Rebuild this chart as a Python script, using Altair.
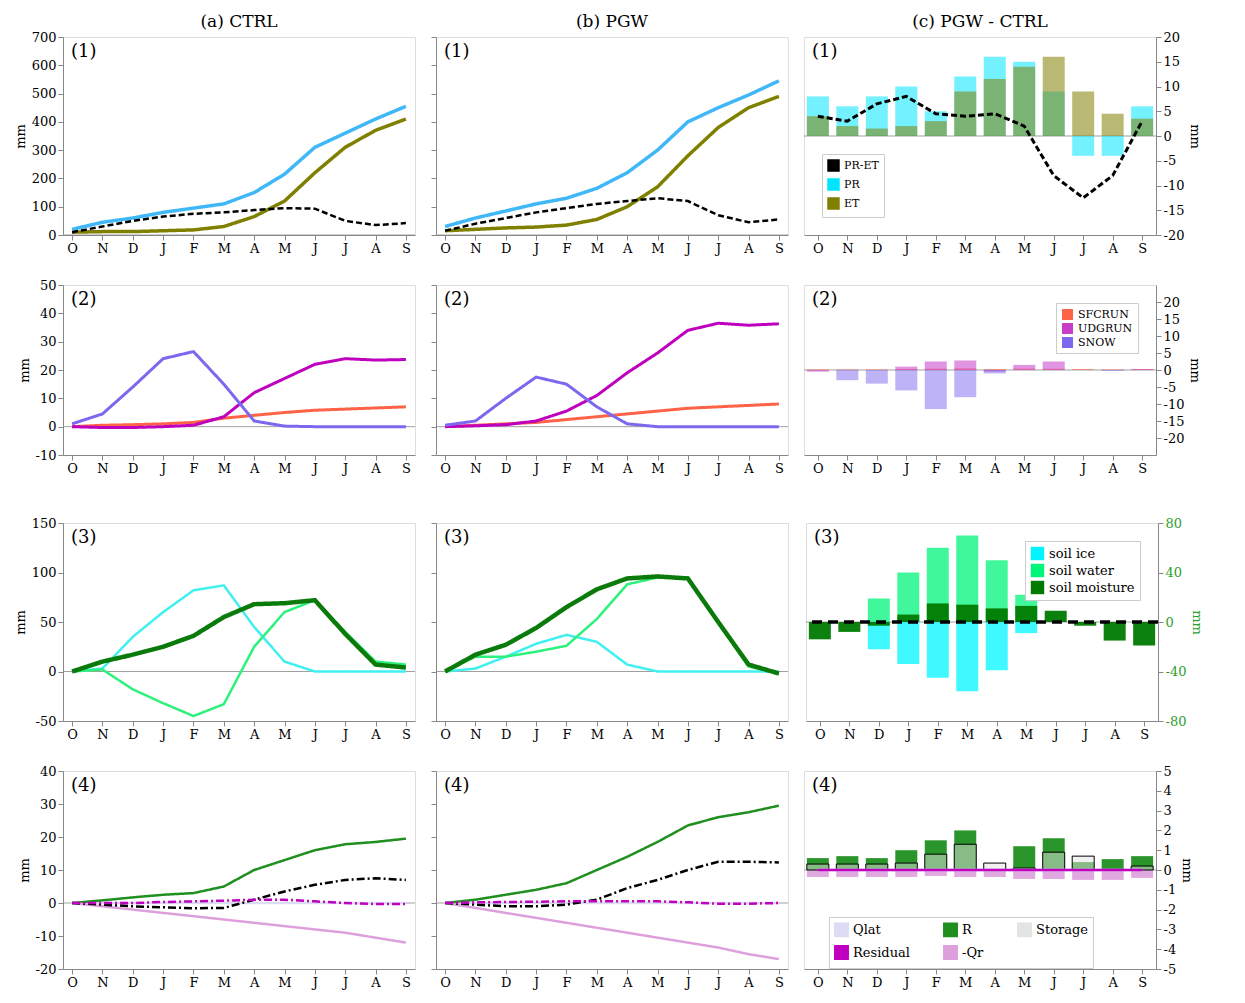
import pandas as pd
import altair as alt

months = ['O', 'N', 'D', 'J', 'F', 'M', 'A', 'M', 'J', 'J', 'A', 'S']
idx = list(range(12))

# row 1: precipitation / ET
pr_ctrl = [20, 45, 60, 80, 95, 110, 150, 215, 310, 360, 410, 455]
et_ctrl = [10, 12, 12, 15, 18, 30, 65, 120, 220, 310, 370, 410]
prmet_ctrl = [10, 30, 50, 65, 75, 80, 88, 95, 93, 50, 35, 42]
pr_pgw = [30, 60, 85, 110, 130, 165, 220, 300, 400, 450, 495, 545]
et_pgw = [15, 20, 25, 28, 35, 55, 100, 170, 280, 380, 450, 490]
prmet_pgw = [15, 40, 60, 80, 95, 110, 120, 130, 120, 70, 45, 55]
pr_diff = [8, 6, 8, 10, 5, 12, 16, 15, 9, -4, -4, 6]
et_diff = [4, 2, 1.5, 2, 3, 9, 11.5, 14, 16, 9, 4.5, 3.5]
prmet_diff = [4, 3, 6.5, 8, 4.5, 4, 4.5, 2, -8, -12.5, -8, 3]

# row 2: runoff / snow
sfc_ctrl = [0, 0.5, 0.7, 1, 1.5, 3, 4, 5, 5.8, 6.2, 6.6, 7]
udg_ctrl = [0, -0.3, -0.3, 0, 0.5, 3.5, 12, 17, 22, 24, 23.5, 23.7]
snow_ctrl = [1, 4.5, 14, 24, 26.5, 15, 2, 0.2, 0, 0, 0, 0]
sfc_pgw = [0, 0.5, 1, 1.5, 2.5, 3.5, 4.5, 5.5, 6.5, 7, 7.5, 8]
udg_pgw = [0, 0.3, 0.7, 2, 5.5, 11, 19, 26, 34, 36.5, 35.8, 36.3]
snow_pgw = [0.5, 2, 10, 17.5, 15, 7, 1, 0, 0, 0, 0, 0]
sfc_diff = [0.2, 0.2, 0.2, 0.3, 0.4, 0.5, 0.3, 0.4, 0.4, 0.3, 0.2, 0.2]
udg_diff = [-0.5, 0, 0, 1, 2.5, 2.8, -0.5, 1.5, 2.5, 0, 0, 0.3]
snow_diff = [0, -3, -4, -6, -11.5, -8, -1, 0, 0, 0, -0.3, 0]

# row 3: soil
ice_ctrl = [0, 3, 35, 60, 82, 87, 45, 10, 0, 0, 0, 0]
wat_ctrl = [0, 2, -18, -32, -45, -33, 25, 60, 72, 40, 10, 7]
sm_ctrl = [0, 10, 17, 25, 36, 55, 68, 69, 72, 38, 7, 4]
ice_pgw = [0, 3, 15, 28, 37, 30, 7, 0, 0, 0, 0, 0]
wat_pgw = [0, 15, 15, 20, 26, 53, 88, 95, 95, 50, 5, -2]
sm_pgw = [0, 17, 27, 44, 65, 83, 94, 96, 94, 50, 7, -2]
ice_diff = [0, 0, -22, -34, -45, -56, -39, -9, 0, 0, 0, 0]
wat_diff = [0, 0, 19, 40, 60, 70, 50, 22, 0, 0, 0, 0]
sm_diff = [-14, -8, -3, 6, 15, 14, 11, 13, 9, -3, -15, -19]

# row 4: groundwater budget
r_ctrl = [0, 0.8, 1.7, 2.5, 3, 5, 10, 13, 16, 17.8, 18.5, 19.5]
qr_ctrl = [0, -1, -2, -3, -4, -5, -6, -7, -8, -9, -10.5, -12]
st_ctrl = [0, -0.5, -1, -1.3, -1.6, -1.5, 1, 3.5, 5.5, 7, 7.5, 7]
res_ctrl = [0, 0, 0, 0.3, 0.5, 0.7, 1, 1, 0.5, 0, -0.3, -0.3]
qlat_ctrl = [0, 0, 0, 0, 0, 0, 0, 0, 0, 0, 0, 0]
r_pgw = [0, 1, 2.5, 4, 6, 10, 14, 18.5, 23.5, 26, 27.5, 29.5]
qr_pgw = [0, -1.5, -3, -4.5, -6, -7.5, -9, -10.5, -12, -13.5, -15.5, -17]
st_pgw = [0, -0.5, -1, -1, -0.5, 1, 4.5, 7, 10, 12.5, 12.5, 12.3]
res_pgw = [0, 0.2, 0.3, 0.4, 0.5, 0.5, 0.5, 0.5, 0.2, -0.2, -0.2, 0]
qlat_pgw = [0, 0, 0, 0, 0, 0, 0, 0, 0, 0, 0, 0]
r_diff = [0.6, 0.7, 0.6, 1.0, 1.5, 2.0, 0.0, 1.2, 1.6, 0.4, 0.55, 0.7]
qr_diff = [-0.35, -0.35, -0.35, -0.35, -0.3, -0.35, -0.35, -0.45, -0.45, -0.5, -0.5, -0.4]
st_diff = [0.3, 0.3, 0.3, 0.35, 0.8, 1.3, 0.35, 0.1, 0.9, 0.7, 0, 0.2]
zeros = [0] * 12

FONT = 'DejaVu Serif'
W = 352
XEXPR = "['O','N','D','J','F','M','A','M','J','J','A','S'][datum.value]"


def long_df(name, vals):
    return pd.DataFrame({'idx': idx, 'value': vals, 'series': [name] * 12})


def xenc():
    return alt.X('idx:Q', scale=alt.Scale(domain=[-0.3, 11.3], nice=False),
                 axis=alt.Axis(values=idx, labelExpr=XEXPR, title=None, grid=False,
                               labelFontSize=13, labelFont=FONT))


def panel(col, label, ydom, ystep, lines=(), bars=(), legend=None, h=198,
          title=None, ytitle_color='black', ylabel_vals=None, zero_dash=False):
    names = [s[0] for s in bars] + [s[0] for s in lines]
    colors = [s[2] for s in bars] + [s[2] for s in lines]
    if legend and 'order' in legend:
        order = legend.pop('order')
        pairs = dict(zip(names, colors))
        names = order
        colors = [pairs[n] for n in order]
    cscale = alt.Scale(domain=names, range=colors)
    vals = ylabel_vals if ylabel_vals else list(range(ydom[0], ydom[1] + 1, ystep))
    if col == 'a':
        yaxis = alt.Axis(values=vals, title='mm', grid=False, labelFontSize=13, labelFont=FONT,
                         labelExpr='datum.value',
                         titleFont=FONT, titleFontWeight='normal', titleFontSize=13)
    elif col == 'b':
        yaxis = alt.Axis(values=vals, title=None, labels=False, grid=False)
    else:
        yaxis = alt.Axis(values=vals, title='mm', orient='right', grid=False, labelFontSize=13,
                         labelExpr='datum.value',
                         labelFont=FONT, titleFont=FONT, titleFontWeight='normal', titleFontSize=13,
                         labelColor=ytitle_color, titleColor=ytitle_color)
    yscale = alt.Scale(domain=ydom, nice=False)
    leg = alt.Legend(**legend) if legend else None
    layers = []
    zero = alt.Chart(pd.DataFrame({'z': [0]})).mark_rule(color='#888', size=0.8).encode(
        y=alt.Y('z:Q', scale=yscale, axis=yaxis))
    layers.append(zero)
    for name, vals_, color, opacity, stroke in bars:
        kw = dict(size=22, fillOpacity=opacity)
        if stroke:
            kw.update(stroke='black', strokeWidth=1, strokeOpacity=1)
        layers.append(alt.Chart(long_df(name, vals_)).mark_bar(**kw).encode(
            x=xenc(), y=alt.Y('value:Q', scale=yscale, axis=yaxis), y2=alt.datum(0),
            fill=alt.Fill('series:N', scale=cscale, legend=leg, title=None)))
    for k, (name, vals_, color, dash_, width) in enumerate(lines):
        layers.append(alt.Chart(long_df(name, vals_)).mark_line(
            strokeWidth=width, strokeDash=dash_).encode(
            x=xenc(), y=alt.Y('value:Q', scale=yscale, axis=yaxis),
            stroke=alt.Stroke('series:N', scale=cscale,
                              legend=leg if (not bars and k == 0) else None, title=None),
            order=alt.Order('idx:Q')))
    if zero_dash:
        layers.append(alt.Chart(pd.DataFrame({'z': [0]})).mark_rule(
            color='black', size=3.5, strokeDash=[10, 6]).encode(
            y=alt.Y('z:Q', scale=yscale, axis=yaxis)))
    layers.append(alt.Chart(pd.DataFrame({'t': [label]})).mark_text(
        align='left', baseline='top', fontSize=18, font=FONT).encode(
        x=alt.value(8), y=alt.value(6), text='t:N'))
    if title:
        layers.append(alt.Chart(pd.DataFrame({'t': [title]})).mark_text(
            align='center', baseline='bottom', fontSize=17, font=FONT).encode(
            x=alt.value(W / 2), y=alt.value(-6), text='t:N'))
    return alt.layer(*layers).resolve_scale(fill='shared', stroke='shared').properties(width=W, height=h)


solid = [1, 0]
dash = [6, 3]
dashdot = [8, 3, 2, 3]
BL = '#40b8f8'
OL = '#808000'

leg1 = dict(orient='bottom-left', labelFont=FONT, labelFontSize=11, fillColor='white',
            strokeColor='#ccc', padding=5, symbolType='square', symbolSize=120)


def row(*panels):
    return alt.hconcat(*panels, spacing=14).resolve_scale(
        fill='independent', stroke='independent')


row1 = row(
    panel('a', '(1)', [0, 700], 100, title='(a) CTRL', lines=[
        ('PR', pr_ctrl, BL, solid, 3.5), ('ET', et_ctrl, OL, solid, 3.5),
        ('PR-ET', prmet_ctrl, 'black', dash, 2.5)]),
    panel('b', '(1)', [0, 700], 100, title='(b) PGW', lines=[
        ('PR', pr_pgw, BL, solid, 3.5), ('ET', et_pgw, OL, solid, 3.5),
        ('PR-ET', prmet_pgw, 'black', dash, 2.5)]),
    panel('c', '(1)', [-20, 20], 5, title='(c) PGW - CTRL', legend=dict(leg1, order=['PR-ET', 'PR', 'ET']),
          bars=[('PR', pr_diff, '#00e5ff', 0.55, False), ('ET', et_diff, OL, 0.55, False)],
          lines=[('PR-ET', prmet_diff, 'black', dash, 3)]))

leg2 = dict(leg1, orient='top-right')
row2 = row(
    panel('a', '(2)', [-10, 50], 10, h=170, lines=[
        ('SFCRUN', sfc_ctrl, '#ff6347', solid, 3), ('UDGRUN', udg_ctrl, '#bf00bf', solid, 3),
        ('SNOW', snow_ctrl, '#7b68ee', solid, 3)]),
    panel('b', '(2)', [-10, 50], 10, h=170, lines=[
        ('SFCRUN', sfc_pgw, '#ff6347', solid, 3), ('UDGRUN', udg_pgw, '#bf00bf', solid, 3),
        ('SNOW', snow_pgw, '#7b68ee', solid, 3)]),
    panel('c', '(2)', [-25, 25], 5, h=170, legend=leg2, ylabel_vals=list(range(-20, 21, 5)),
          bars=[('SFCRUN', sfc_diff, '#ff6347', 0.6, False), ('UDGRUN', udg_diff, '#c83cc8', 0.55, False),
                ('SNOW', snow_diff, '#7b68ee', 0.5, False)]))

leg3 = dict(leg1, labelFontSize=13, symbolSize=180)
row3 = row(
    panel('a', '(3)', [-50, 150], 50, lines=[
        ('soil ice', ice_ctrl, '#40f0f0', solid, 2.5), ('soil water', wat_ctrl, '#2cf27c', solid, 2.5),
        ('soil moisture', sm_ctrl, '#0a7a0a', solid, 4.5)]),
    panel('b', '(3)', [-50, 150], 50, lines=[
        ('soil ice', ice_pgw, '#40f0f0', solid, 2.5), ('soil water', wat_pgw, '#2cf27c', solid, 2.5),
        ('soil moisture', sm_pgw, '#0a7a0a', solid, 4.5)]),
    panel('c', '(3)', [-80, 80], 40, legend=dict(leg3, orient='top-right'), ytitle_color='#2ca02c',
          zero_dash=True,
          bars=[('soil ice', ice_diff, '#00f5ff', 0.75, False), ('soil water', wat_diff, '#00f57a', 0.75, False),
                ('soil moisture', sm_diff, '#007a00', 0.95, False)]))

leg4 = dict(leg1, orient='none', legendX=25, legendY=146, columns=3, labelFontSize=13,
            symbolSize=180, columnPadding=30,
            order=['Qlat', 'Residual', 'R', '-Qr', 'Storage'])
row4 = row(
    panel('a', '(4)', [-20, 40], 10, lines=[
        ('Qlat', qlat_ctrl, '#dcdcf5', solid, 2.5), ('R', r_ctrl, '#1f8f1f', solid, 2.5),
        ('-Qr', qr_ctrl, '#dda0dd', solid, 2.5), ('Storage', st_ctrl, 'black', dashdot, 2.5),
        ('Residual', res_ctrl, '#c000c0', dashdot, 2.5)]),
    panel('b', '(4)', [-20, 40], 10, lines=[
        ('Qlat', qlat_pgw, '#dcdcf5', solid, 2.5), ('R', r_pgw, '#1f8f1f', solid, 2.5),
        ('-Qr', qr_pgw, '#dda0dd', solid, 2.5), ('Storage', st_pgw, 'black', dashdot, 2.5),
        ('Residual', res_pgw, '#c000c0', dashdot, 2.5)]),
    panel('c', '(4)', [-5, 5], 1, legend=leg4,
          bars=[('R', r_diff, '#1f8f1f', 0.95, False), ('-Qr', qr_diff, '#dda0dd', 0.9, False),
                ('Storage', st_diff, '#e4e4e4', 0.5, True)],
          lines=[('Qlat', zeros, '#dcdcf5', solid, 2.5), ('Residual', zeros, '#c000c0', solid, 2.5)]))

top = alt.vconcat(row1, row2, spacing=22).resolve_scale(fill='independent', stroke='independent')
bottom = alt.vconcat(row3, row4, spacing=22).resolve_scale(fill='independent', stroke='independent')
chart = alt.vconcat(top, bottom, spacing=40).resolve_scale(
    fill='independent', stroke='independent'
).configure_view(stroke='#777').configure_axis(
    domainColor='#777', tickColor='#777', labelColor='black'
).configure(font=FONT, padding={'top': 4, 'left': 5, 'right': 5, 'bottom': 5})

chart.save("out.html", embed_options={"renderer": "svg", "actions": False})
